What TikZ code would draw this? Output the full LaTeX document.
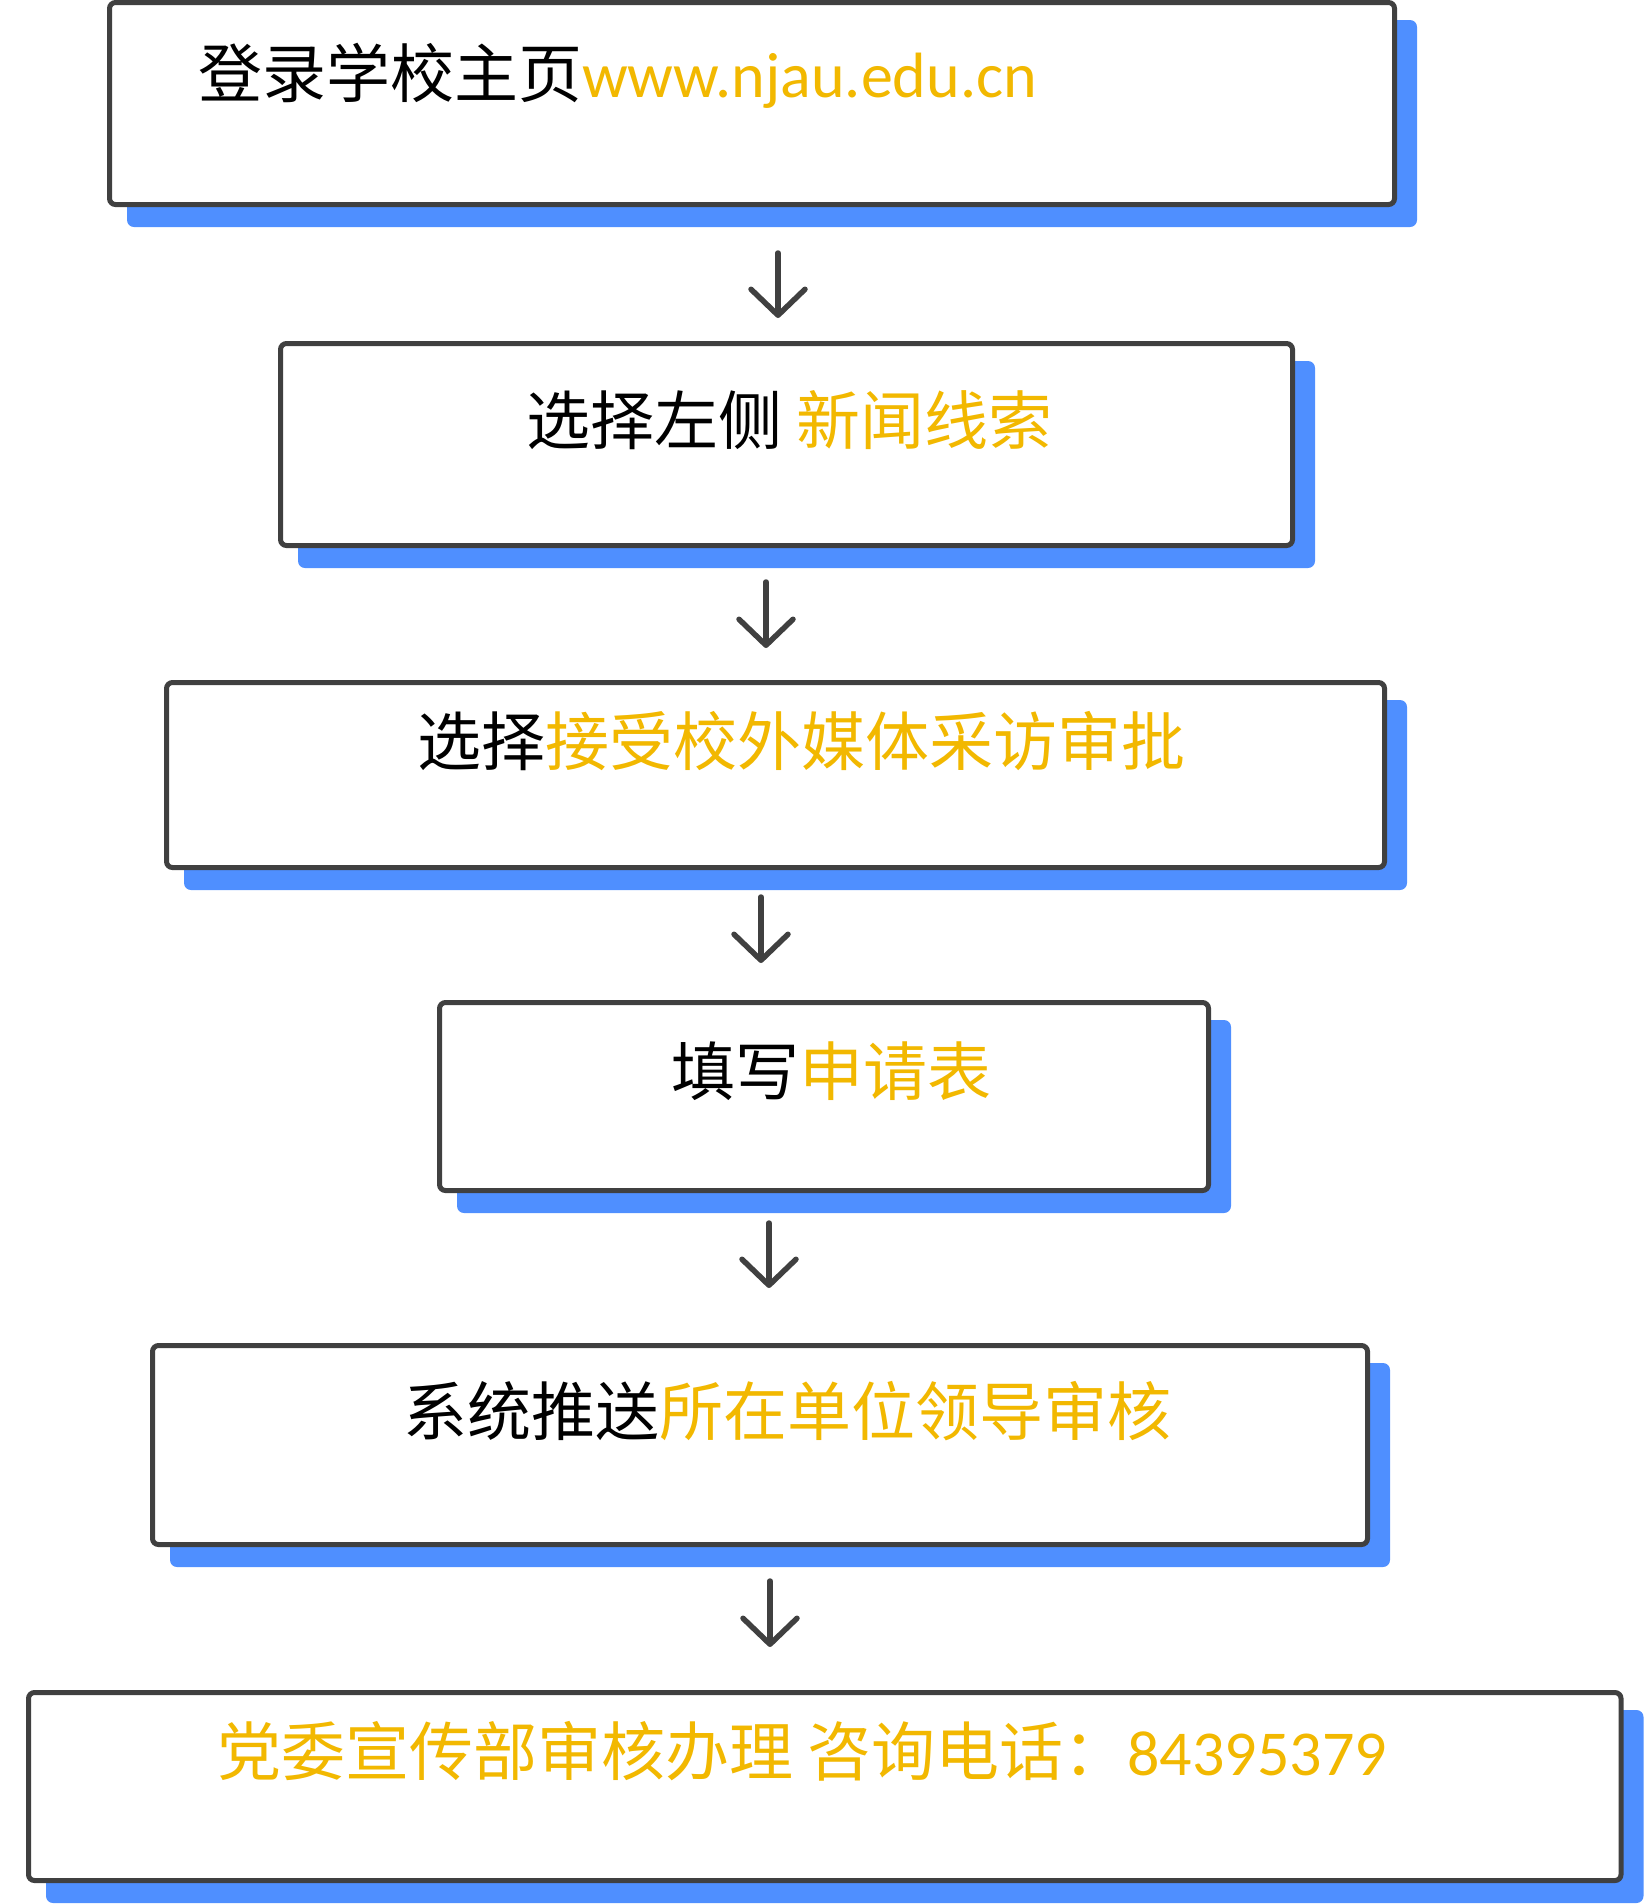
\documentclass[tikz,border=0pt]{standalone}
\usepackage{fontspec}
\setmainfont{Carlito}
\newfontfamily\cjk{Noto Sans CJK SC}
\usetikzlibrary{arrows.meta}
\definecolor{boxline}{HTML}{404040}
\definecolor{shadeblue}{HTML}{4F8FFF}
\definecolor{goldtext}{HTML}{F2B800}
\pgfdeclarelayer{back}
\pgfsetlayers{back,main}
\newcommand{\lat}{\fontsize{64}{76}\selectfont\rmfamily}
\begin{document}
\begin{tikzpicture}[x=1pt,y=-1pt,
  flowbox/.style={draw=boxline, line width=5pt, fill=white, rounded corners=6pt,
    rectangle, anchor=north west, inner sep=0pt, outer sep=0pt},
  shadowbox/.style={fill=shadeblue, rounded corners=7pt},
  steptext/.style={anchor=base west, inner sep=0pt, outer sep=0pt,
    font=\fontsize{64}{76}\selectfont\cjk},
  flowarrow/.style={draw=boxline, line width=5.5pt, line cap=round,
    -{Straight Barb[length=26pt, width=54pt, line cap=round, line join=round]}}]
\useasboundingbox (0,0) rectangle (1644,1904);

% boxes
\node[flowbox, minimum width=1285pt, minimum height=202pt] (b1) at (109.5,2.5) {};
\node[flowbox, minimum width=1012pt, minimum height=202pt] (b2) at (280.5,343.5) {};
\node[flowbox, minimum width=1218pt, minimum height=185pt] (b3) at (166.5,682.5) {};
\node[flowbox, minimum width=769pt, minimum height=188pt] (b4) at (439.5,1002.5) {};
\node[flowbox, minimum width=1215pt, minimum height=199pt] (b5) at (152.5,1345.5) {};
\node[flowbox, minimum width=1592.5pt, minimum height=188pt] (b6) at (28.5,1692.5) {};

% shadows
\begin{pgfonlayer}{back}
\foreach \b in {b1,b2,b3,b4,b5,b6}{
  \fill[shadowbox] ([shift={(17.5,17.5)}]\b.north west) rectangle ([shift={(22.5,22.5)}]\b.south east);
}
\end{pgfonlayer}

% texts
\node[steptext] (t1) at (198,97) {登录学校主页{\lat\color{goldtext}www.njau.edu.cn}};
\node[steptext] (t2) at (526,444) {选择左侧 {\color{goldtext}新闻线索}};
\node[steptext] (t3) at (417,765) {选择{\color{goldtext}接受校外媒体采访审批}};
\node[steptext] (t4) at (671,1095) {填写{\color{goldtext}申请表}};
\node[steptext] (t5) at (403,1435) {系统推送{\color{goldtext}所在单位领导审核}};
\node[steptext, text=goldtext] (t6) at (217,1775) {党委宣传部审核办理 咨询电话：{\lat 84395379}};

% arrows
\coordinate (a1s) at (778,253);  \coordinate (a1e) at (778,318);
\coordinate (a2s) at (766,582);  \coordinate (a2e) at (766,648);
\coordinate (a3s) at (761,897);  \coordinate (a3e) at (761,963);
\coordinate (a4s) at (769,1223); \coordinate (a4e) at (769,1288);
\coordinate (a5s) at (770,1581); \coordinate (a5e) at (770,1647);
\draw[flowarrow] (a1s) -- (a1e);
\draw[flowarrow] (a2s) -- (a2e);
\draw[flowarrow] (a3s) -- (a3e);
\draw[flowarrow] (a4s) -- (a4e);
\draw[flowarrow] (a5s) -- (a5e);
\end{tikzpicture}
\end{document}
